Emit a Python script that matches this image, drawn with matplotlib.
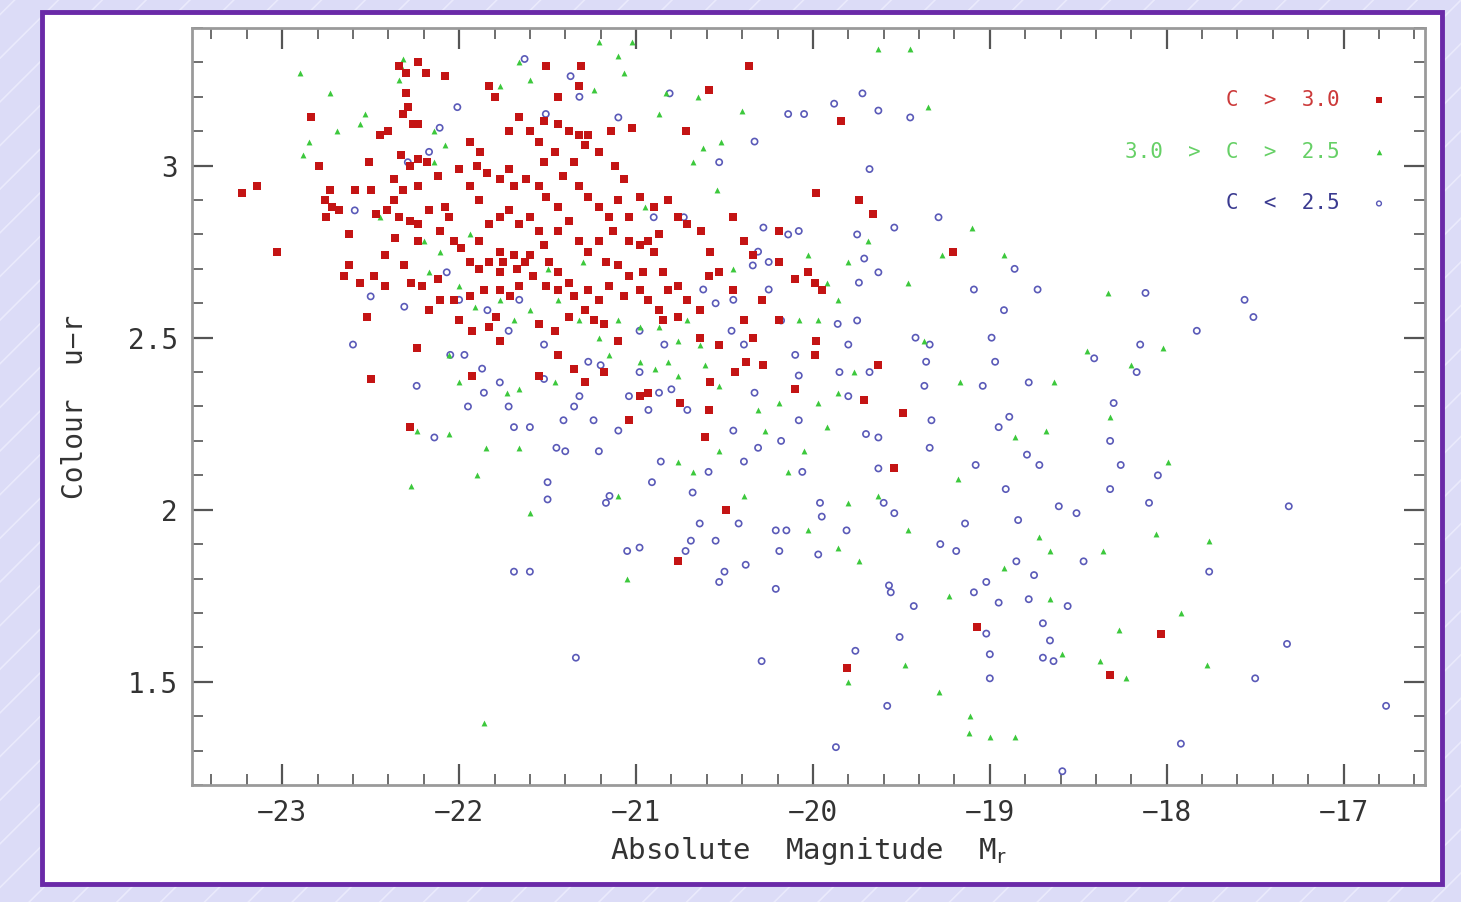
import matplotlib
matplotlib.use("Agg")
import matplotlib.pyplot as plt
from matplotlib.patches import Rectangle
from matplotlib.lines import Line2D
from matplotlib.ticker import MultipleLocator
import numpy as np

# C > 3.0 (red squares): absolute magnitude, colour u-r
red_mag = [-23.23, -23.14, -23.03, -22.84, -22.79, -22.73, -22.72, -22.75, -22.68, -22.62,
           -22.59, -22.51, -22.50, -22.47, -22.48, -22.50, -22.34, -22.30, -22.23, -22.19,
           -22.08, -22.30, -22.29, -22.32, -22.23, -22.26, -22.40, -22.45, -22.33, -22.23,
           -22.28, -22.18, -22.12, -22.23, -22.32, -22.37, -22.41, -22.34, -22.28, -22.23,
           -22.17, -22.08, -22.06, -22.11, -22.03, -22.23, -22.36, -22.42, -22.31, -22.27,
           -22.21, -22.12, -22.11, -22.17, -22.03, -22.00, -21.93, -21.83, -21.79, -22.24,
           -22.28, -21.93, -21.99, -21.94, -21.89, -21.83, -21.77, -21.77, -21.75, -21.69,
           -21.63, -21.67, -21.60, -21.58, -21.66, -21.71, -21.77, -21.86, -21.94, -21.89,
           -21.83, -21.77, -21.72, -21.66, -21.60, -21.55, -21.52, -21.49, -21.44, -21.38,
           -21.44, -21.51, -21.35, -21.27, -21.21, -21.29, -21.38, -21.24, -21.18, -21.55,
           -21.46, -21.89, -21.94, -22.00, -21.90, -21.84, -21.77, -21.72, -21.69, -21.62,
           -21.55, -21.52, -21.55, -21.46, -21.60, -21.66, -21.72, -21.80, -21.83, -21.94,
           -21.88, -21.51, -21.31, -21.32, -21.44, -21.52, -21.44, -21.38, -21.32, -21.27,
           -21.29, -21.21, -21.35, -21.41, -21.32, -21.27, -21.21, -21.15, -21.10, -21.04,
           -21.13, -21.21, -21.27, -21.32, -21.38, -21.44, -21.44, -21.51, -21.04, -20.98,
           -20.93, -20.87, -20.90, -20.85, -20.96, -21.04, -21.10, -21.17, -21.15, -21.07,
           -20.98, -20.93, -20.82, -20.76, -20.71, -20.64, -20.76, -20.85, -21.02, -20.72,
           -20.59, -20.36, -20.98, -20.90, -20.82, -20.76, -20.71, -20.63, -20.58, -20.53,
           -20.59, -20.45, -20.39, -20.34, -20.19, -20.19, -20.10, -20.03, -19.99, -19.95,
           -19.98, -19.84, -19.74, -19.66, -20.34, -20.38, -20.44, -20.58, -20.59, -20.61,
           -20.28, -20.10, -19.98, -19.99, -19.63, -19.71, -19.49, -19.54, -20.49, -20.76,
           -19.81, -19.07, -18.03, -18.32, -19.21, -21.77, -21.55, -21.18, -20.98, -21.04,
           -20.93, -20.75, -20.64, -20.53, -20.39, -20.45, -20.29, -20.19, -21.44, -21.35,
           -21.29, -21.10, -20.87, -22.65, -22.76, -21.14, -21.07, -21.12, -22.37, -22.62,
           -22.56, -22.52, -22.42]
red_col = [2.92, 2.94, 2.75, 3.14, 3.00, 2.93, 2.88, 2.85, 2.87, 2.80,
           2.93, 3.01, 2.93, 2.86, 2.68, 2.38, 3.29, 3.27, 3.30, 3.27,
           3.26, 3.21, 3.17, 3.15, 3.12, 3.12, 3.10, 3.09, 3.03, 3.02,
           3.00, 3.01, 2.97, 2.94, 2.93, 2.90, 2.87, 2.85, 2.84, 2.83,
           2.87, 2.88, 2.85, 2.81, 2.78, 2.78, 2.79, 2.74, 2.71, 2.66,
           2.65, 2.67, 2.61, 2.58, 2.61, 2.55, 2.52, 2.53, 2.56, 2.47,
           2.24, 2.39, 2.76, 2.72, 2.70, 2.72, 2.75, 2.69, 2.72, 2.74,
           2.72, 2.70, 2.74, 2.68, 2.65, 2.62, 2.64, 2.64, 2.62, 2.78,
           2.83, 2.85, 2.87, 2.83, 2.85, 2.81, 2.77, 2.72, 2.69, 2.66,
           2.64, 2.65, 2.62, 2.64, 2.61, 2.58, 2.56, 2.55, 2.54, 2.54,
           2.52, 2.90, 2.94, 2.99, 3.00, 2.98, 2.96, 2.99, 2.94, 2.96,
           2.94, 3.01, 3.07, 3.04, 3.10, 3.14, 3.10, 3.20, 3.23, 3.07,
           3.04, 3.29, 3.29, 3.23, 3.20, 3.13, 3.12, 3.10, 3.09, 3.09,
           3.06, 3.04, 3.01, 2.97, 2.94, 2.91, 2.88, 2.85, 2.90, 2.85,
           2.81, 2.78, 2.75, 2.78, 2.84, 2.81, 2.88, 2.91, 2.78, 2.77,
           2.78, 2.80, 2.75, 2.69, 2.69, 2.68, 2.71, 2.72, 2.65, 2.62,
           2.64, 2.61, 2.64, 2.65, 2.61, 2.58, 2.56, 2.55, 3.11, 3.10,
           3.22, 3.29, 2.91, 2.88, 2.90, 2.85, 2.83, 2.81, 2.75, 2.69,
           2.68, 2.85, 2.78, 2.74, 2.81, 2.72, 2.67, 2.69, 2.66, 2.64,
           2.92, 3.13, 2.90, 2.86, 2.50, 2.43, 2.40, 2.37, 2.29, 2.21,
           2.42, 2.35, 2.49, 2.45, 2.42, 2.32, 2.28, 2.12, 2.00, 1.85,
           1.54, 1.66, 1.64, 1.52, 2.75, 2.49, 2.39, 2.40, 2.33, 2.26,
           2.34, 2.31, 2.50, 2.48, 2.55, 2.64, 2.61, 2.55, 2.45, 2.41,
           2.37, 2.49, 2.58, 2.68, 2.90, 3.10, 2.96, 3.00, 2.96, 2.71,
           2.66, 2.56, 2.65]

# 3.0 > C > 2.5 (green triangles)
green_mag = [-22.90, -22.88, -22.85, -22.73, -22.69, -22.56, -22.53, -22.33, -22.34, -22.32,
             -22.14, -22.08, -22.14, -21.77, -21.66, -21.60, -21.21, -21.02, -21.10, -21.07,
             -21.24, -20.83, -20.87, -20.65, -20.40, -20.52, -20.62, -20.68, -20.54, -19.63,
             -19.45, -19.35, -21.94, -22.11, -22.17, -22.00, -21.91, -21.77, -21.69, -21.60,
             -21.44, -21.32, -21.21, -21.10, -20.98, -20.87, -20.76, -20.71, -20.64, -20.61,
             -20.53, -20.76, -20.82, -20.89, -20.98, -21.15, -21.46, -21.66, -21.73, -22.00,
             -22.06, -22.24, -22.06, -21.85, -21.90, -21.66, -21.60, -22.27, -21.86, -21.10,
             -21.05, -20.76, -20.68, -20.53, -20.39, -20.27, -20.14, -20.03, -19.86, -19.74,
             -19.63, -19.46, -19.80, -20.05, -19.92, -19.86, -19.77, -19.97, -20.19, -20.31,
             -20.08, -19.97, -19.86, -19.80, -19.69, -20.03, -19.92, -19.46, -19.27, -19.10,
             -18.92, -19.37, -19.17, -18.64, -18.45, -18.33, -18.20, -18.02, -17.99, -18.68,
             -18.86, -19.18, -18.72, -18.66, -18.36, -18.06, -17.76, -17.92, -17.77, -18.27,
             -18.23, -18.38, -18.66, -18.59, -18.86, -19.00, -19.11, -19.12, -19.29, -19.48,
             -19.23, -19.80, -18.92, -18.32, -22.45, -22.20, -21.50, -21.30, -20.95, -20.45]
green_col = [3.27, 3.03, 3.07, 3.21, 3.10, 3.12, 3.15, 3.29, 3.25, 3.31,
             3.10, 3.06, 3.01, 3.23, 3.30, 3.25, 3.36, 3.36, 3.32, 3.27,
             3.22, 3.21, 3.15, 3.20, 3.16, 3.07, 3.05, 3.01, 2.93, 3.34,
             3.34, 3.17, 2.80, 2.75, 2.69, 2.65, 2.59, 2.61, 2.55, 2.58,
             2.61, 2.55, 2.50, 2.55, 2.53, 2.53, 2.49, 2.55, 2.48, 2.42,
             2.36, 2.39, 2.43, 2.41, 2.43, 2.45, 2.37, 2.35, 2.34, 2.37,
             2.45, 2.23, 2.22, 2.18, 2.10, 2.18, 1.99, 2.07, 1.38, 2.04,
             1.80, 2.14, 2.11, 2.17, 2.04, 2.23, 2.11, 1.94, 1.89, 1.85,
             2.04, 1.94, 2.02, 2.17, 2.24, 2.34, 2.40, 2.31, 2.31, 2.29,
             2.55, 2.55, 2.61, 2.72, 2.78, 2.74, 2.66, 2.66, 2.74, 2.82,
             2.74, 2.49, 2.37, 2.37, 2.46, 2.63, 2.42, 2.47, 2.14, 2.23,
             2.21, 2.09, 1.92, 1.88, 1.88, 1.93, 1.91, 1.70, 1.55, 1.65,
             1.51, 1.56, 1.74, 1.58, 1.34, 1.34, 1.40, 1.35, 1.47, 1.55,
             1.75, 1.50, 1.83, 2.27, 2.85, 2.78, 2.70, 2.72, 2.88, 2.70]

# C < 2.5 (blue open circles)
blue_mag = [-21.63, -21.37, -21.51, -21.32, -20.81, -21.10, -20.14, -20.05, -20.33, -19.88,
            -19.72, -19.63, -19.45, -19.68, -22.01, -22.11, -22.29, -22.17, -20.53, -20.90,
            -20.73, -20.28, -20.14, -20.08, -20.31, -20.34, -20.25, -19.75, -19.71, -19.63,
            -19.74, -19.54, -19.29, -19.09, -18.92, -18.86, -18.73, -18.12, -17.56, -17.51,
            -17.83, -18.15, -18.17, -18.41, -18.30, -18.32, -18.26, -18.32, -18.10, -18.05,
            -17.76, -17.31, -17.32, -17.50, -16.76, -17.92, -18.59, -19.87, -19.58, -19.76,
            -19.51, -20.29, -21.34, -21.69, -21.60, -21.05, -20.98, -20.72, -20.69, -20.53,
            -20.50, -20.38, -20.21, -20.19, -20.55, -20.64, -20.42, -20.21, -20.15, -20.06,
            -19.96, -19.95, -19.97, -19.81, -19.57, -19.56, -19.43, -19.28, -19.19, -19.14,
            -19.09, -19.02, -19.00, -19.00, -19.02, -18.95, -18.78, -18.70, -18.66, -18.64,
            -18.70, -18.56, -18.75, -18.85, -18.84, -18.61, -18.51, -18.47, -18.91, -18.79,
            -18.72, -18.95, -18.89, -19.08, -19.04, -18.78, -18.99, -18.97, -19.34, -19.42,
            -19.37, -19.33, -19.34, -19.63, -19.70, -19.63, -19.60, -19.54, -19.68, -19.80,
            -19.85, -20.08, -20.18, -20.08, -20.10, -19.86, -19.80, -19.75, -20.18, -20.25,
            -20.45, -20.62, -20.46, -20.39, -20.33, -20.45, -20.31, -20.39, -20.59, -20.68,
            -20.91, -20.86, -21.21, -21.15, -21.17, -20.93, -20.87, -21.04, -21.10, -21.24,
            -21.35, -21.52, -21.50, -21.50, -21.40, -21.41, -21.60, -21.69, -21.72, -21.77,
            -21.86, -21.87, -21.97, -22.05, -22.14, -22.24, -22.31, -22.50, -22.60, -21.66,
            -21.52, -20.98, -20.84, -20.98, -20.71, -21.27, -21.32, -21.72, -21.84, -22.59,
            -22.07, -22.00, -19.36, -20.55, -21.20, -20.80, -21.45, -21.95]
blue_col = [3.31, 3.26, 3.15, 3.20, 3.21, 3.14, 3.15, 3.15, 3.07, 3.18,
            3.21, 3.16, 3.14, 2.99, 3.17, 3.11, 3.01, 3.04, 3.01, 2.85,
            2.85, 2.82, 2.80, 2.81, 2.75, 2.71, 2.72, 2.80, 2.73, 2.69,
            2.66, 2.82, 2.85, 2.64, 2.58, 2.70, 2.64, 2.63, 2.61, 2.56,
            2.52, 2.48, 2.40, 2.44, 2.31, 2.20, 2.13, 2.06, 2.02, 2.10,
            1.82, 2.01, 1.61, 1.51, 1.43, 1.32, 1.24, 1.31, 1.43, 1.59,
            1.63, 1.56, 1.57, 1.82, 1.82, 1.88, 1.89, 1.88, 1.91, 1.79,
            1.82, 1.84, 1.77, 1.88, 1.91, 1.96, 1.96, 1.94, 1.94, 2.11,
            2.02, 1.98, 1.87, 1.94, 1.78, 1.76, 1.72, 1.90, 1.88, 1.96,
            1.76, 1.79, 1.58, 1.51, 1.64, 1.73, 1.74, 1.67, 1.62, 1.56,
            1.57, 1.72, 1.81, 1.85, 1.97, 2.01, 1.99, 1.85, 2.06, 2.16,
            2.13, 2.24, 2.27, 2.13, 2.36, 2.37, 2.50, 2.43, 2.48, 2.50,
            2.36, 2.26, 2.18, 2.21, 2.22, 2.12, 2.02, 1.99, 2.40, 2.33,
            2.40, 2.26, 2.20, 2.39, 2.45, 2.54, 2.48, 2.55, 2.55, 2.64,
            2.61, 2.64, 2.52, 2.48, 2.34, 2.23, 2.18, 2.14, 2.11, 2.05,
            2.08, 2.14, 2.17, 2.04, 2.02, 2.29, 2.34, 2.33, 2.23, 2.26,
            2.30, 2.38, 2.08, 2.03, 2.17, 2.26, 2.24, 2.24, 2.30, 2.37,
            2.34, 2.41, 2.45, 2.45, 2.21, 2.36, 2.59, 2.62, 2.48, 2.61,
            2.48, 2.52, 2.48, 2.40, 2.29, 2.43, 2.33, 2.52, 2.58, 2.87,
            2.69, 2.61, 2.43, 2.60, 2.42, 2.35, 2.18, 2.30]

xticks = [-23, -22, -21, -20, -19, -18, -17]
yticks = [1.5, 2.0, 2.5, 3.0]
ytick_labels = ["1.5", "2", "2.5", "3"]

W, H = 1461, 902
fig = plt.figure(figsize=(W / 100, H / 100), dpi=100)
fig.patch.set_facecolor("#dcdcf7")

# diagonal stripes in the background
for t in np.arange(-1.0, 1.2, 0.03):
    fig.add_artist(Line2D([t, t + 0.62], [0, 1], transform=fig.transFigure,
                          color="#eaeafc", lw=1.2, zorder=0))

fig.add_artist(Rectangle((42 / W, 1 - 884 / H), 1400 / W, 872 / H, transform=fig.transFigure,
                         facecolor="white", edgecolor="#6a2aa8", lw=3.5, zorder=1))

ax = fig.add_axes([192 / W, 1 - 785 / H, (1425 - 192) / W, (785 - 28) / H])
ax.set_facecolor("white")
ax.set_zorder(2)

ax.scatter(blue_mag, blue_col, marker="o", s=20, facecolors="none",
           edgecolors="#5a5ab8", linewidths=1.2, zorder=3)
ax.scatter(green_mag, green_col, marker="^", s=18, color="#3cc83c", linewidths=0, zorder=4)
ax.scatter(red_mag, red_col, marker="s", s=28, color="#c41414", linewidths=0, zorder=5)

ax.set_xlim(-23.51, -16.54)
ax.set_ylim(1.2, 3.4)

mono = "DejaVu Sans Mono"
ax.set_xticks(xticks)
ax.set_xticklabels([str(v).replace("-", "\u2212") for v in xticks], fontsize=20,
                   family=mono, color="#333333")
ax.set_yticks(yticks)
ax.set_yticklabels(ytick_labels, fontsize=20, family=mono, color="#333333")
ax.xaxis.set_minor_locator(MultipleLocator(0.2))
ax.yaxis.set_minor_locator(MultipleLocator(0.1))
ax.tick_params(which="both", direction="in", top=True, right=True, color="#555555")
ax.tick_params(which="major", length=15, width=1.6, pad=10)
ax.tick_params(which="minor", length=8, width=1.2)
for sp in ax.spines.values():
    sp.set_color("#9a9a9a")
    sp.set_linewidth(2)

ax.set_xlabel("Absolute  Magnitude  M$_{\\rm r}$", fontsize=21, family=mono,
              color="#333333", labelpad=6)
ax.set_ylabel("Colour  u\u2212r", fontsize=20, family=mono, color="#333333", labelpad=28)

# legend drawn as text + marker, as in the original
leg = [("C  >  3.0", "#cc3a3a", "s", "#c41414", 3.19),
       ("3.0  >  C  >  2.5", "#66d066", "^", "#3cc83c", 3.04),
       ("C  <  2.5", "#3a3a90", "o", "#5a5ab8", 2.89)]
for label, tcol, mk, mcol, yv in leg:
    ax.text(-17.02, yv, label, ha="right", va="center", fontsize=15, family=mono, color=tcol)
    if mk == "o":
        ax.scatter([-16.8], [yv], marker=mk, s=12, facecolors="none", edgecolors=mcol,
                   linewidths=1.0, zorder=6)
    else:
        ax.scatter([-16.8], [yv], marker=mk, s=16, color=mcol, linewidths=0, zorder=6)

fig.savefig("out.png", dpi=100, facecolor=fig.get_facecolor())
